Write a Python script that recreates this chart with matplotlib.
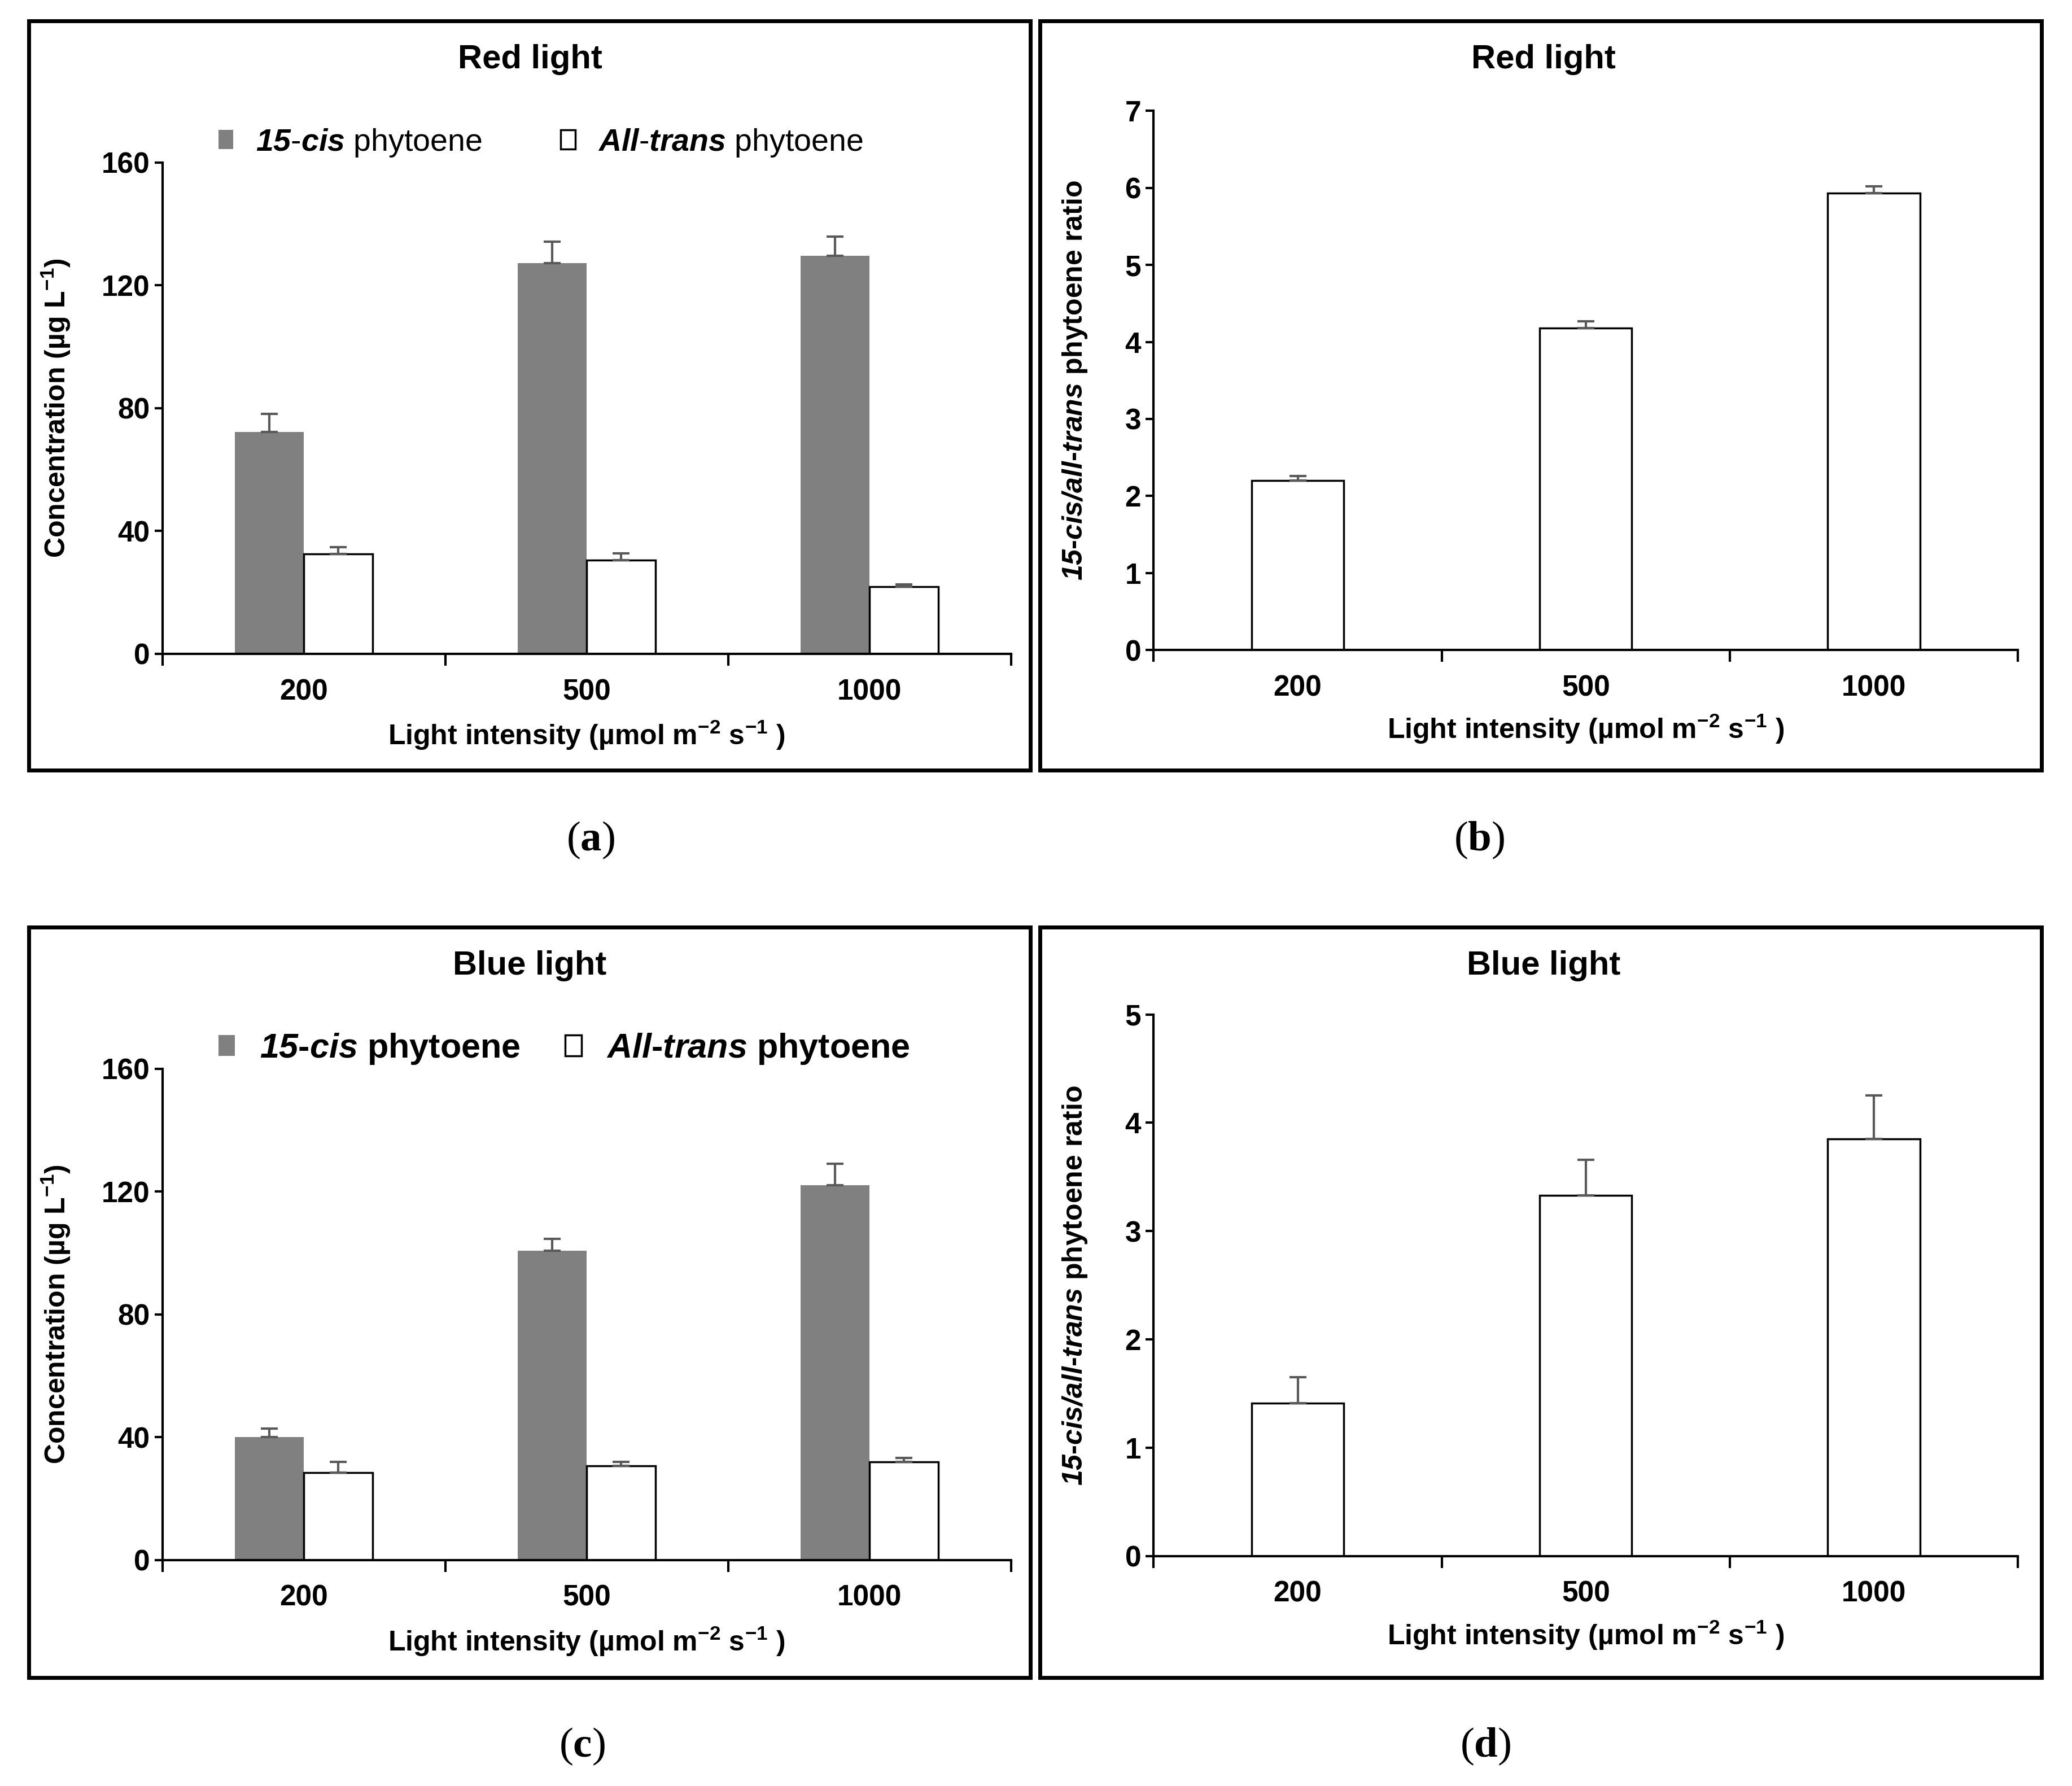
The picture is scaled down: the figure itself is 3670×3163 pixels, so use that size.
import numpy as np
import matplotlib
matplotlib.use('Agg')
import matplotlib.pyplot as plt
from matplotlib.patches import Rectangle

# ---- Daten
categories = ['200', '500', '1000']

red_cis = [72.3, 127.3, 129.7]
red_cis_err = [5.8, 7.0, 6.1]
red_trans = [32.6, 30.5, 21.8]
red_trans_err = [2.2, 2.2, 0.8]
red_ratio = [2.20, 4.18, 5.93]
red_ratio_err = [0.06, 0.09, 0.09]

blue_cis = [40.0, 100.7, 122.0]
blue_cis_err = [2.8, 3.9, 7.0]
blue_trans = [28.4, 30.6, 31.9]
blue_trans_err = [3.5, 1.3, 1.3]
blue_ratio = [1.41, 3.33, 3.85]
blue_ratio_err = [0.24, 0.33, 0.40]

plt.rcParams['font.family'] = ['Liberation Sans', 'DejaVu Sans']
plt.rcParams['font.weight'] = 'bold'
plt.rcParams['axes.labelweight'] = 'bold'
plt.rcParams['mathtext.fontset'] = 'custom'
plt.rcParams['mathtext.rm'] = 'Liberation Sans:bold'
plt.rcParams['mathtext.it'] = 'Liberation Sans:italic:bold'
plt.rcParams['mathtext.bfit'] = 'Liberation Sans:italic:bold'
plt.rcParams['mathtext.bf'] = 'Liberation Serif:bold'
plt.rcParams['mathtext.default'] = 'regular'

GRAY = '#808080'
ERRC = '#595959'
TICK_FS = 37
LABEL_FS = 36
TITLE_FS = 43

xlabel = r'Light intensity (µmol m$^{-2}$ s$^{-1}$ )'
conc_label = r'Concentration (µg L$^{-1}$)'
ratio_label = r'$\mathbfit{15}$-$\mathbfit{cis/all}$-$\mathbfit{trans}$ phytoene ratio'
legend_labels = [r'$\mathbfit{15}$-$\mathbfit{cis}$ phytoene',
                 r'$\mathbfit{All}$-$\mathbfit{trans}$ phytoene']

fig = plt.figure(figsize=(36.7, 31.63), dpi=100)


def frame(x0, y0, x1, y1):
    fig.add_artist(Rectangle((x0, y0), x1 - x0, y1 - y0, transform=fig.transFigure,
                             fill=False, lw=5, ec='black'))


def style_axes(ax, ymax, ystep, ylabel, ylab_x, xlab_y):
    ax.spines['top'].set_visible(False)
    ax.spines['right'].set_visible(False)
    ax.spines['left'].set_linewidth(3)
    ax.spines['bottom'].set_linewidth(3)
    ax.set_xlim(-0.5, 2.5)
    ax.set_ylim(0, ymax)
    ax.set_yticks(np.arange(0, ymax + 0.001, ystep))
    ax.tick_params(axis='y', direction='out', length=10, width=3, pad=6, labelsize=TICK_FS)
    # Striche an den Kategoriegrenzen, Beschriftung in der Mitte
    ax.set_xticks([-0.5, 0.5, 1.5, 2.5])
    ax.set_xticklabels([])
    ax.set_xticks(np.arange(len(categories)), minor=True)
    ax.set_xticklabels(categories, minor=True)
    ax.tick_params(axis='x', which='major', direction='out', length=15, width=3)
    ax.tick_params(axis='x', which='minor', length=0, pad=31, labelsize=TICK_FS)
    ax.set_xlabel(xlabel, fontsize=LABEL_FS)
    ax.xaxis.set_label_coords(0.5, xlab_y)
    ax.set_ylabel(ylabel, fontsize=LABEL_FS)
    ax.yaxis.set_label_coords(ylab_x, 0.5)


def conc_panel(rect, cis, cis_err, trans, trans_err, leg_y, leg_fs, leg_cs, leg_weight):
    ax = fig.add_axes(rect)
    x = np.arange(len(categories))
    w = 0.243
    b1 = ax.bar(x - w / 2, cis, w, color=GRAY, edgecolor='none', zorder=2)
    b2 = ax.bar(x + w / 2, trans, w, color='white', edgecolor='black', lw=2.5, zorder=2)
    ax.errorbar(x - w / 2, cis, yerr=[np.zeros(len(cis)), cis_err], fmt='none',
                ecolor=ERRC, elinewidth=3, capsize=11, capthick=3, zorder=3)
    ax.errorbar(x + w / 2, trans, yerr=[np.zeros(len(trans)), trans_err], fmt='none',
                ecolor=ERRC, elinewidth=3, capsize=11, capthick=3, zorder=3)
    style_axes(ax, 160, 40, conc_label, -0.106, -0.132)
    ax.legend([b1, b2], legend_labels,
              loc='center left', bbox_to_anchor=(0.1055, leg_y), bbox_transform=fig.transFigure,
              ncol=2, frameon=False, borderpad=0, borderaxespad=0, handlelength=0.47,
              handleheight=0.55, handletextpad=0.72, columnspacing=leg_cs,
              prop={'size': leg_fs, 'weight': leg_weight})
    return ax


def ratio_panel(rect, ratio, ratio_err, ymax):
    ax = fig.add_axes(rect)
    x = np.arange(len(categories))
    w = 0.32
    ax.bar(x, ratio, w, color='white', edgecolor='black', lw=2.5, zorder=2)
    ax.errorbar(x, ratio, yerr=[np.zeros(len(ratio)), ratio_err], fmt='none',
                ecolor=ERRC, elinewidth=3, capsize=11, capthick=3, zorder=3)
    style_axes(ax, ymax, 1, ratio_label, -0.075, -0.116)
    return ax


# ---- Rahmen
frame(0.0140, 0.5688, 0.4974, 0.9882)
frame(0.5019, 0.5688, 0.9853, 0.9882)
frame(0.0140, 0.0607, 0.4974, 0.4808)
frame(0.5019, 0.0607, 0.9853, 0.4808)

# ---- Panels
conc_panel([0.0784, 0.6339, 0.4095, 0.2751], red_cis, red_cis_err, red_trans, red_trans_err,
           0.9201, 40, 2.5, 'normal')
ratio_panel([0.5568, 0.6361, 0.4171, 0.3018], red_ratio, red_ratio_err, 7)
conc_panel([0.0784, 0.1265, 0.4095, 0.2751], blue_cis, blue_cis_err, blue_trans, blue_trans_err,
           0.4127, 44, 1.3, 'bold')
ratio_panel([0.5568, 0.1287, 0.4171, 0.3033], blue_ratio, blue_ratio_err, 5)

# ---- Titel
fig.text(0.2557, 0.9667, 'Red light', ha='center', va='center', fontsize=TITLE_FS)
fig.text(0.7449, 0.9667, 'Red light', ha='center', va='center', fontsize=TITLE_FS)
fig.text(0.2557, 0.4593, 'Blue light', ha='center', va='center', fontsize=TITLE_FS)
fig.text(0.7449, 0.4593, 'Blue light', ha='center', va='center', fontsize=TITLE_FS)

# ---- Panelbeschriftung
for px, py, lab in [(0.285, 0.5296, 'a'), (0.714, 0.5296, 'b'),
                    (0.281, 0.0222, 'c'), (0.717, 0.0222, 'd')]:
    fig.text(px, py, r'($\mathbf{' + lab + '}$)', ha='center', va='center',
             fontsize=54, family='Liberation Serif', weight='normal')

fig.savefig('out.png', dpi=100, facecolor='white')
